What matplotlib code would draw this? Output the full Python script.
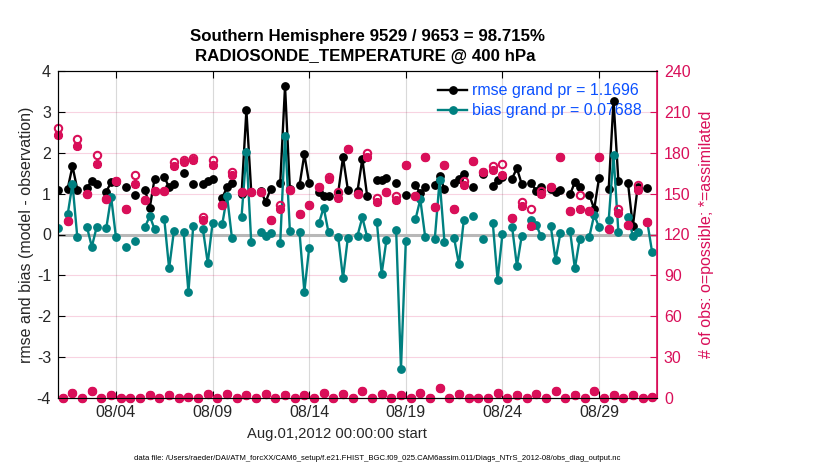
import numpy as np
import matplotlib
matplotlib.use('Agg')
import matplotlib.pyplot as plt

plt.rcParams['font.family'] = ['Liberation Sans', 'DejaVu Sans']
plt.rcParams['axes.unicode_minus'] = False

nan = np.nan

# 6-hourly bins starting Aug.01,2012 00Z (124 bins)
rmse = [1.08, nan, 1.12, 1.67, 1.10, nan, 1.13, 1.32, 1.23, nan,
        1.05, 1.28, 1.29, nan, 1.15, nan, 0.97, nan, 1.10, 0.66,
        1.37, nan, 1.41, 1.15, 1.24, nan, 1.50, nan, 1.24, nan,
        1.23, 1.31, 1.36, nan, 0.90, 1.15, 1.25, nan, 0.98, 3.04,
        1.05, nan, 1.06, 0.80, 1.11, nan, 1.25, 3.63, 1.11, nan,
        1.21, 1.96, 1.25, nan, 1.05, 0.94, 0.95, nan, 1.02, 1.89,
        1.10, nan, 1.06, 1.85, 0.94, nan, 1.33, 1.33, 1.39, nan,
        1.25, nan, 0.97, nan, 1.21, 1.01, 1.15, nan, 1.21, 1.43,
        1.11, nan, 1.25, 1.37, 1.49, nan, 1.15, nan, 1.48, nan,
        1.19, 1.33, 1.40, nan, 1.37, 1.62, 1.23, nan, 1.25, 1.07,
        1.15, nan, 1.12, 1.05, 1.10, nan, 0.98, 1.28, 1.15, nan,
        0.97, 0.62, 1.38, nan, 1.11, 3.27, 1.32, nan, 1.25, 0.20,
        1.16, nan, 1.13, nan]

bias = [0.16, nan, 0.49, 1.24, -0.07, nan, 0.18, -0.30, 0.18, nan,
        0.16, 0.92, -0.07, nan, -0.31, nan, -0.16, nan, 0.18, 0.45,
        0.13, nan, 0.38, -0.83, 0.09, nan, 0.07, -1.41, 0.22, nan,
        0.13, -0.70, 0.28, nan, 0.25, 0.94, -0.08, nan, 0.44, 2.01,
        -0.18, nan, 0.07, -0.03, 0.04, nan, -0.22, 2.42, 0.09, nan,
        0.05, -1.40, -0.32, nan, 0.27, 0.66, 0.05, nan, -0.05, -1.07,
        -0.08, nan, -0.03, 0.42, -0.06, nan, 0.31, -0.96, -0.13, nan,
        0.11, -3.29, -0.16, nan, 0.37, 0.86, -0.05, nan, -0.11, 1.33,
        -0.18, nan, -0.09, -0.73, 0.35, nan, 0.46, nan, -0.12, nan,
        0.29, -1.11, 0.01, nan, 0.19, -0.77, -0.03, nan, 0.35, 0.23,
        -0.04, nan, 0.21, -0.62, 0.03, nan, 0.09, -0.83, -0.11, nan,
        -0.05, 0.48, 0.18, nan, 0.35, 1.94, 0.07, nan, 0.44, -0.03,
        0.07, nan, 0.30, -0.44]

n_poss = [198, 0, 130, 4, 190, 0, 150, 5, 178, 0,
          146, 2, 159, 0, 139, 0, 164, 0, 145, 2,
          152, 0, 152, 2, 173, 0, 175, 1, 176, 0,
          133, 3, 175, 0, 142, 3, 166, 0, 151, 2,
          151, 0, 151, 3, 131, 0, 142, 2, 153, 0,
          135, 2, 142, 0, 155, 4, 162, 0, 151, 3,
          183, 0, 150, 5, 180, 0, 147, 3, 151, 0,
          148, 2, 171, 0, 148, 4, 177, 0, 140, 7,
          171, 0, 139, 3, 159, 0, 174, 0, 166, 0,
          170, 4, 172, 0, 132, 2, 144, 0, 139, 3,
          152, 0, 155, 5, 177, 0, 137, 2, 149, 0,
          137, 5, 177, 0, 124, 2, 139, 0, 127, 2,
          156, 0, 129, 1]

n_used = [193, 0, 130, 4, 185, 0, 150, 5, 172, 0,
          146, 2, 159, 0, 139, 0, 157, 0, 145, 2,
          152, 0, 152, 2, 170, 0, 173, 1, 175, 0,
          131, 3, 171, 0, 142, 3, 164, 0, 151, 2,
          151, 0, 151, 3, 131, 0, 139, 2, 153, 0,
          135, 2, 142, 0, 155, 4, 161, 0, 147, 3,
          183, 0, 150, 5, 177, 0, 144, 3, 151, 0,
          145, 2, 171, 0, 148, 4, 177, 0, 140, 7,
          171, 0, 139, 3, 156, 0, 174, 0, 166, 0,
          167, 4, 164, 0, 132, 2, 141, 0, 126, 3,
          150, 0, 155, 5, 177, 0, 137, 2, 139, 0,
          137, 5, 177, 0, 124, 2, 136, 0, 127, 2,
          153, 0, 129, 1]

tick_days = [3, 8, 13, 18, 23, 28]
tick_labels = ['08/04', '08/09', '08/14', '08/19', '08/24', '08/29']

rmse_grand = 1.1696
bias_grand = 0.07688
title1 = 'Southern Hemisphere 9529 / 9653 = 98.715%'
title2 = 'RADIOSONDE_TEMPERATURE @ 400 hPa'
data_file = ('data file: /Users/raeder/DAI/ATM_forcXX/CAM6_setup/f.e21.FHIST_BGC.f09_025.'
             'CAM6assim.011/Diags_NTrS_2012-08/obs_diag_output.nc')

days = np.arange(len(rmse)) * 0.25

crimson = (0.85, 0.06, 0.35)
teal = '#008080'
blue = '#0a50ff'
dark = '#262626'

fig = plt.figure(figsize=(8.3, 4.7), dpi=100)
ax = fig.add_axes([58 / 830, 72 / 470, 599 / 830, 327 / 470])

# grid: vertical gray, horizontal pink (from right axis)
for d in tick_days:
    ax.axvline(d, color=(0.85, 0.85, 0.85), lw=0.8, zorder=0.5)
for v in range(-3, 4):
    ax.axhline(v, color=crimson, alpha=0.18, lw=0.8, zorder=0.5)
ax.axhline(0, color=(0.72, 0.72, 0.72), lw=2.2, zorder=1)

l1, = ax.plot(days, rmse, '-o', color='k', lw=1.7, ms=5.3, zorder=3)
l2, = ax.plot(days, bias, '-o', color=teal, lw=1.7, ms=5.3, zorder=3)

leg = ax.legend([l1, l2], ['rmse grand pr = %.4f' % rmse_grand, 'bias grand pr = %.5f' % bias_grand],
                loc='upper right', bbox_to_anchor=(0.9745, 0.962), frameon=False,
                fontsize=11.5, labelcolor=blue, handlelength=1.8, handletextpad=0.3,
                borderpad=0, borderaxespad=0, labelspacing=0.3, numpoints=1)
leg.set_zorder(2)

ax.set_xlim(0, 31)
ax.set_ylim(-4, 4)
ax.set_xticks(tick_days)
ax.set_xticklabels(tick_labels)
ax.set_yticks(range(-4, 5))
ax.tick_params(direction='in', top=True, right=False, length=5, labelsize=11.5, pad=5,
               labelcolor=dark)
ax.spines['right'].set_color(crimson)

ax2 = ax.twinx()
ax2.plot(days, n_poss, 'o', mfc='none', mec=crimson, ms=5.3, mew=1.5, ls='none', clip_on=False)
ax2.plot(days, n_used, marker=(8, 2, 0), color=crimson, mec=crimson, ms=6.5, mew=1.9,
         ls='none', clip_on=False)
ax2.set_ylim(0, 240)
ax2.set_yticks(range(0, 241, 30))
ax2.tick_params(axis='y', direction='in', colors=crimson, length=5, labelsize=11.5, pad=5)
ax2.spines['right'].set_color(crimson)
ax2.spines['right'].set_linewidth(1.2)

fig.text(27 / 830, 1 - 234.5 / 470, 'rmse and bias (model - observation)', rotation=90,
         ha='center', va='center', fontsize=11.5, color=dark)
fig.text(706 / 830, 1 - 234.5 / 470, '# of obs: o=possible; *=assimilated', rotation=90,
         ha='center', va='center', fontsize=11.5, color=crimson)
fig.text(367 / 830, 1 - 37 / 470, title1, ha='center', va='center', fontsize=12.2, fontweight='bold')
fig.text(365 / 830, 1 - 57 / 470, title2, ha='center', va='center', fontsize=12.2, fontweight='bold')
fig.text(337 / 830, 1 - 434 / 470, 'Aug.01,2012 00:00:00 start', ha='center', va='center',
         fontsize=10.6, color=dark)
fig.text(377 / 830, 1 - 459 / 470, data_file, ha='center', va='center', fontsize=5.6)

fig.savefig('out.png', dpi=100)
